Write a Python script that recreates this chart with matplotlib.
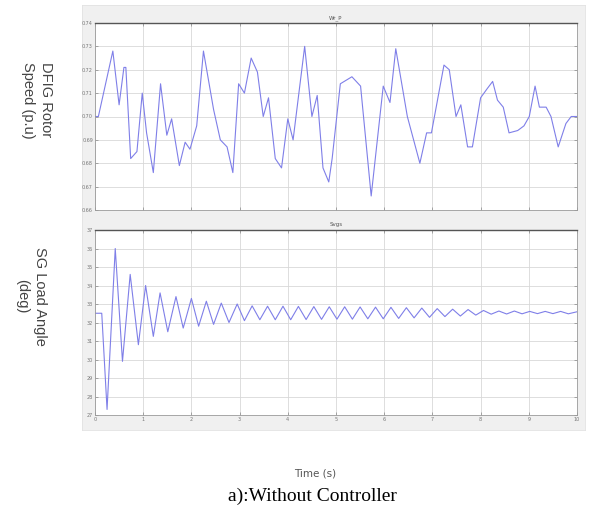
import numpy as np
import matplotlib.pyplot as plt

# ---- data ----
speed_t = [0.0, 0.07, 0.37, 0.50, 0.60, 0.64, 0.74, 0.87, 0.98, 1.07, 1.21, 1.36, 1.49, 1.59,
           1.75, 1.87, 1.97, 2.11, 2.25, 2.46, 2.60, 2.74, 2.86, 2.98, 3.10, 3.24, 3.37, 3.49,
           3.60, 3.74, 3.87, 4.00, 4.11, 4.35, 4.50, 4.61, 4.73, 4.85, 4.92, 5.09, 5.33, 5.51,
           5.73, 5.98, 6.12, 6.24, 6.48, 6.74, 6.88, 6.98, 7.24, 7.35, 7.49, 7.59, 7.73, 7.83,
           8.00, 8.14, 8.25, 8.35, 8.47, 8.59, 8.77, 8.90, 9.01, 9.13, 9.22, 9.36, 9.46, 9.61,
           9.77, 9.88, 10.0]
speed_pu = [0.700, 0.700, 0.728, 0.705, 0.721, 0.721, 0.682, 0.685, 0.710, 0.693, 0.676, 0.714,
            0.692, 0.699, 0.679, 0.689, 0.686, 0.696, 0.728, 0.703, 0.690, 0.687, 0.676, 0.714,
            0.710, 0.725, 0.719, 0.700, 0.708, 0.682, 0.678, 0.699, 0.690, 0.730, 0.700, 0.709,
            0.678, 0.672, 0.682, 0.714, 0.717, 0.713, 0.666, 0.713, 0.706, 0.729, 0.700, 0.680,
            0.693, 0.693, 0.722, 0.720, 0.700, 0.705, 0.687, 0.687, 0.708, 0.712, 0.715, 0.707,
            0.704, 0.693, 0.694, 0.696, 0.700, 0.713, 0.704, 0.704, 0.700, 0.687, 0.697, 0.700,
            0.700]

angle_t = [0.0, 0.14, 0.25, 0.42, 0.57, 0.73, 0.90, 1.05, 1.21, 1.35, 1.51, 1.68, 1.83, 2.00,
           2.15, 2.31, 2.46, 2.62, 2.78, 2.95, 3.10, 3.26, 3.42, 3.58, 3.74, 3.90, 4.06, 4.22,
           4.38, 4.54, 4.70, 4.86, 5.02, 5.18, 5.34, 5.50, 5.66, 5.82, 5.98, 6.14, 6.30, 6.46,
           6.62, 6.78, 6.94, 7.10, 7.26, 7.42, 7.58, 7.74, 7.90, 8.06, 8.22, 8.38, 8.54, 8.70,
           8.86, 9.02, 9.18, 9.34, 9.50, 9.66, 9.82, 10.0]
angle_deg = [32.5, 32.5, 27.3, 36.0, 29.9, 34.6, 30.8, 34.0, 31.25, 33.6, 31.5, 33.4, 31.7, 33.3,
             31.8, 33.15, 31.9, 33.05, 32.0, 33.0, 32.1, 32.9, 32.15, 32.88, 32.15, 32.88, 32.15,
             32.87, 32.16, 32.86, 32.17, 32.85, 32.18, 32.85, 32.18, 32.84, 32.2, 32.83, 32.2,
             32.82, 32.22, 32.8, 32.25, 32.78, 32.28, 32.75, 32.32, 32.72, 32.35, 32.7, 32.4,
             32.65, 32.45, 32.62, 32.46, 32.62, 32.47, 32.6, 32.48, 32.6, 32.48, 32.6, 32.47,
             32.58]

speed_ticks = [0.66, 0.67, 0.68, 0.69, 0.70, 0.71, 0.72, 0.73, 0.74]
angle_ticks = [27, 28, 29, 30, 31, 32, 33, 34, 35, 36, 37]
time_ticks = list(range(11))

LINE = '#7f7fe8'
GRID = '#d8d8d8'

fig = plt.figure(figsize=(5.9, 5.15), dpi=100)

# grey panel behind both plots
panel = fig.add_axes([82 / 590, 1 - 430 / 515, 503 / 590, 425 / 515], zorder=0)
panel.set_facecolor('#f0f0f0')
panel.set_xticks([])
panel.set_yticks([])
for s in panel.spines.values():
    s.set_color('#e2e2e2')
    s.set_linewidth(0.6)

ax1 = fig.add_axes([95 / 590, 1 - 210 / 515, 482 / 590, 187 / 515], zorder=2)
ax2 = fig.add_axes([95 / 590, 1 - 415 / 515, 482 / 590, 185 / 515], zorder=2)

ax1.plot(speed_t, speed_pu, color=LINE, lw=0.8)
ax2.plot(angle_t, angle_deg, color=LINE, lw=0.8)

ax1.set_ylim(0.66, 0.74)
ax1.set_yticks(speed_ticks)
ax1.set_yticklabels([f"{v:.2f}" for v in speed_ticks])
ax1.set_xticks(time_ticks)
ax1.set_xticklabels([])
ax2.set_ylim(27, 37)
ax2.set_yticks(angle_ticks)

for ax, ttl in [(ax1, 'Wr_P'), (ax2, 'Svgs')]:
    ax.set_xlim(0, 10)
    ax.set_xticks(time_ticks)
    ax.set_facecolor('white')
    ax.grid(True, color=GRID, lw=0.6)
    ax.tick_params(direction='in', top=True, right=True, length=2, width=0.5,
                   labelsize=3.5, labelcolor='#777777', color='#888888', pad=1.5)
    for s in ax.spines.values():
        s.set_color('#9a9a9a')
        s.set_linewidth(0.6)
    ax.spines['top'].set_color('#555555')
    ax.spines['top'].set_linewidth(1.0)
    ax.set_title(ttl, fontsize=4, color='#555555', pad=3)
ax1.set_xticklabels([])

fig.text(37 / 590, 1 - 100 / 515, 'DFIG Rotor\nSpeed (p.u)', rotation=-90, ha='center',
         va='center', fontsize=10.5, color='#444444', linespacing=1.3,
         family='Liberation Sans')
fig.text(31 / 590, 1 - 296 / 515, 'SG Load Angle\n(deg)', rotation=-90, ha='center',
         va='center', fontsize=10.5, color='#444444', linespacing=1.3,
         family='Liberation Sans')

fig.text(315 / 590, 1 - 473 / 515, 'Time (s)', ha='center', va='center', fontsize=7.5,
         color='#555555', family='Liberation Sans Narrow')
fig.text(312 / 590, 1 - 496 / 515, 'a):Without Controller', ha='center', va='center',
         fontsize=14, color='black', family='Liberation Serif')

fig.savefig('out.png', dpi=100)
